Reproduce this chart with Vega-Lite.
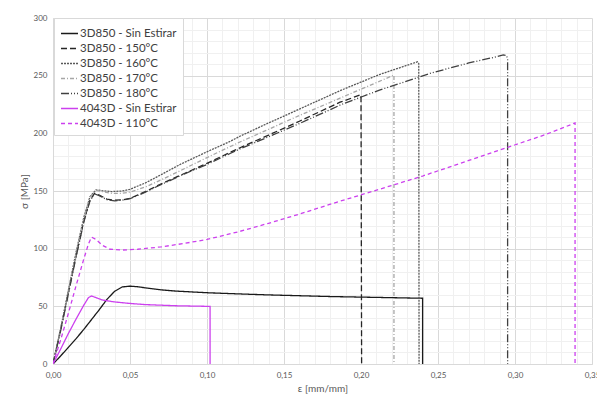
{
  "$schema": "https://vega.github.io/schema/vega-lite/v6.json",
  "width": 539,
  "height": 346,
  "autosize": {"type": "none"},
  "padding": {"left": 53, "top": 18, "right": 5, "bottom": 32},
  "background": "white",
  "config": {"view": {"stroke": null}, "font": "Lato"},
  "datasets": {
    "curves": [
      {"s": "3D850 - Sin Estirar", "i": 1, "e": 0, "v": 0},
      {"s": "3D850 - Sin Estirar", "i": 2, "e": 0.005, "v": 7},
      {"s": "3D850 - Sin Estirar", "i": 3, "e": 0.01, "v": 14.5},
      {"s": "3D850 - Sin Estirar", "i": 4, "e": 0.015, "v": 22},
      {"s": "3D850 - Sin Estirar", "i": 5, "e": 0.02, "v": 30},
      {"s": "3D850 - Sin Estirar", "i": 6, "e": 0.025, "v": 38.5},
      {"s": "3D850 - Sin Estirar", "i": 7, "e": 0.03, "v": 47},
      {"s": "3D850 - Sin Estirar", "i": 8, "e": 0.035, "v": 56},
      {"s": "3D850 - Sin Estirar", "i": 9, "e": 0.04, "v": 63},
      {"s": "3D850 - Sin Estirar", "i": 10, "e": 0.045, "v": 66.8},
      {"s": "3D850 - Sin Estirar", "i": 11, "e": 0.05, "v": 67.5},
      {"s": "3D850 - Sin Estirar", "i": 12, "e": 0.055, "v": 67},
      {"s": "3D850 - Sin Estirar", "i": 13, "e": 0.06, "v": 66},
      {"s": "3D850 - Sin Estirar", "i": 14, "e": 0.07, "v": 64.3},
      {"s": "3D850 - Sin Estirar", "i": 15, "e": 0.08, "v": 63.2},
      {"s": "3D850 - Sin Estirar", "i": 16, "e": 0.1, "v": 61.8},
      {"s": "3D850 - Sin Estirar", "i": 17, "e": 0.12, "v": 60.8},
      {"s": "3D850 - Sin Estirar", "i": 18, "e": 0.14, "v": 59.9},
      {"s": "3D850 - Sin Estirar", "i": 19, "e": 0.16, "v": 59.2},
      {"s": "3D850 - Sin Estirar", "i": 20, "e": 0.18, "v": 58.5},
      {"s": "3D850 - Sin Estirar", "i": 21, "e": 0.2, "v": 58},
      {"s": "3D850 - Sin Estirar", "i": 22, "e": 0.22, "v": 57.5},
      {"s": "3D850 - Sin Estirar", "i": 23, "e": 0.24, "v": 57},
      {"s": "3D850 - Sin Estirar", "i": 24, "e": 0.24, "v": 0},

      {"s": "3D850 - 150°C", "i": 1, "e": 0, "v": 0},
      {"s": "3D850 - 150°C", "i": 2, "e": 0.005, "v": 30},
      {"s": "3D850 - 150°C", "i": 3, "e": 0.01, "v": 62},
      {"s": "3D850 - 150°C", "i": 4, "e": 0.015, "v": 94},
      {"s": "3D850 - 150°C", "i": 5, "e": 0.02, "v": 124},
      {"s": "3D850 - 150°C", "i": 6, "e": 0.024, "v": 142},
      {"s": "3D850 - 150°C", "i": 7, "e": 0.027, "v": 148},
      {"s": "3D850 - 150°C", "i": 8, "e": 0.03, "v": 146.5},
      {"s": "3D850 - 150°C", "i": 9, "e": 0.035, "v": 143},
      {"s": "3D850 - 150°C", "i": 10, "e": 0.04, "v": 142},
      {"s": "3D850 - 150°C", "i": 11, "e": 0.045, "v": 142.3},
      {"s": "3D850 - 150°C", "i": 12, "e": 0.05, "v": 143.6},
      {"s": "3D850 - 150°C", "i": 13, "e": 0.06, "v": 149.5},
      {"s": "3D850 - 150°C", "i": 14, "e": 0.07, "v": 156},
      {"s": "3D850 - 150°C", "i": 15, "e": 0.08, "v": 162},
      {"s": "3D850 - 150°C", "i": 16, "e": 0.09, "v": 168},
      {"s": "3D850 - 150°C", "i": 17, "e": 0.1, "v": 174},
      {"s": "3D850 - 150°C", "i": 18, "e": 0.115, "v": 183.5},
      {"s": "3D850 - 150°C", "i": 19, "e": 0.1214, "v": 187.5},
      {"s": "3D850 - 150°C", "i": 20, "e": 0.14, "v": 198.5},
      {"s": "3D850 - 150°C", "i": 21, "e": 0.16, "v": 210.5},
      {"s": "3D850 - 150°C", "i": 22, "e": 0.18, "v": 223},
      {"s": "3D850 - 150°C", "i": 23, "e": 0.1864, "v": 227},
      {"s": "3D850 - 150°C", "i": 24, "e": 0.2, "v": 233.5},
      {"s": "3D850 - 150°C", "i": 25, "e": 0.2004, "v": 0},

      {"s": "3D850 - 160°C", "i": 1, "e": 0, "v": 0},
      {"s": "3D850 - 160°C", "i": 2, "e": 0.005, "v": 31},
      {"s": "3D850 - 160°C", "i": 3, "e": 0.01, "v": 64},
      {"s": "3D850 - 160°C", "i": 4, "e": 0.015, "v": 97},
      {"s": "3D850 - 160°C", "i": 5, "e": 0.02, "v": 127},
      {"s": "3D850 - 160°C", "i": 6, "e": 0.024, "v": 145},
      {"s": "3D850 - 160°C", "i": 7, "e": 0.028, "v": 151},
      {"s": "3D850 - 160°C", "i": 8, "e": 0.032, "v": 150.3},
      {"s": "3D850 - 160°C", "i": 9, "e": 0.038, "v": 149.5},
      {"s": "3D850 - 160°C", "i": 10, "e": 0.045, "v": 150},
      {"s": "3D850 - 160°C", "i": 11, "e": 0.05, "v": 151.5},
      {"s": "3D850 - 160°C", "i": 12, "e": 0.06, "v": 157},
      {"s": "3D850 - 160°C", "i": 13, "e": 0.07, "v": 164},
      {"s": "3D850 - 160°C", "i": 14, "e": 0.0825, "v": 173},
      {"s": "3D850 - 160°C", "i": 15, "e": 0.1, "v": 184},
      {"s": "3D850 - 160°C", "i": 16, "e": 0.115, "v": 193},
      {"s": "3D850 - 160°C", "i": 17, "e": 0.1214, "v": 197.5},
      {"s": "3D850 - 160°C", "i": 18, "e": 0.14, "v": 209},
      {"s": "3D850 - 160°C", "i": 19, "e": 0.16, "v": 221},
      {"s": "3D850 - 160°C", "i": 20, "e": 0.1864, "v": 237},
      {"s": "3D850 - 160°C", "i": 21, "e": 0.212, "v": 251},
      {"s": "3D850 - 160°C", "i": 22, "e": 0.2366, "v": 262},
      {"s": "3D850 - 160°C", "i": 23, "e": 0.2375, "v": 260.5},
      {"s": "3D850 - 160°C", "i": 24, "e": 0.2377, "v": 0},

      {"s": "3D850 - 170°C", "i": 1, "e": 0, "v": 0},
      {"s": "3D850 - 170°C", "i": 2, "e": 0.005, "v": 30.5},
      {"s": "3D850 - 170°C", "i": 3, "e": 0.01, "v": 63},
      {"s": "3D850 - 170°C", "i": 4, "e": 0.015, "v": 96},
      {"s": "3D850 - 170°C", "i": 5, "e": 0.02, "v": 126},
      {"s": "3D850 - 170°C", "i": 6, "e": 0.024, "v": 144.5},
      {"s": "3D850 - 170°C", "i": 7, "e": 0.028, "v": 150.5},
      {"s": "3D850 - 170°C", "i": 8, "e": 0.032, "v": 149.5},
      {"s": "3D850 - 170°C", "i": 9, "e": 0.038, "v": 148},
      {"s": "3D850 - 170°C", "i": 10, "e": 0.045, "v": 148},
      {"s": "3D850 - 170°C", "i": 11, "e": 0.05, "v": 149},
      {"s": "3D850 - 170°C", "i": 12, "e": 0.06, "v": 153.5},
      {"s": "3D850 - 170°C", "i": 13, "e": 0.07, "v": 159.5},
      {"s": "3D850 - 170°C", "i": 14, "e": 0.0825, "v": 167.5},
      {"s": "3D850 - 170°C", "i": 15, "e": 0.1, "v": 179},
      {"s": "3D850 - 170°C", "i": 16, "e": 0.1214, "v": 192.5},
      {"s": "3D850 - 170°C", "i": 17, "e": 0.14, "v": 203.5},
      {"s": "3D850 - 170°C", "i": 18, "e": 0.16, "v": 215.5},
      {"s": "3D850 - 170°C", "i": 19, "e": 0.1864, "v": 230.5},
      {"s": "3D850 - 170°C", "i": 20, "e": 0.2214, "v": 250.5},
      {"s": "3D850 - 170°C", "i": 21, "e": 0.2214, "v": 0},

      {"s": "3D850 - 180°C", "i": 1, "e": 0, "v": 0},
      {"s": "3D850 - 180°C", "i": 2, "e": 0.005, "v": 29},
      {"s": "3D850 - 180°C", "i": 3, "e": 0.01, "v": 61},
      {"s": "3D850 - 180°C", "i": 4, "e": 0.015, "v": 93},
      {"s": "3D850 - 180°C", "i": 5, "e": 0.02, "v": 123},
      {"s": "3D850 - 180°C", "i": 6, "e": 0.024, "v": 141.5},
      {"s": "3D850 - 180°C", "i": 7, "e": 0.027, "v": 147.5},
      {"s": "3D850 - 180°C", "i": 8, "e": 0.03, "v": 146},
      {"s": "3D850 - 180°C", "i": 9, "e": 0.035, "v": 142.5},
      {"s": "3D850 - 180°C", "i": 10, "e": 0.04, "v": 141.5},
      {"s": "3D850 - 180°C", "i": 11, "e": 0.045, "v": 142},
      {"s": "3D850 - 180°C", "i": 12, "e": 0.05, "v": 143.3},
      {"s": "3D850 - 180°C", "i": 13, "e": 0.06, "v": 149},
      {"s": "3D850 - 180°C", "i": 14, "e": 0.07, "v": 155.5},
      {"s": "3D850 - 180°C", "i": 15, "e": 0.08, "v": 161.5},
      {"s": "3D850 - 180°C", "i": 16, "e": 0.09, "v": 167.5},
      {"s": "3D850 - 180°C", "i": 17, "e": 0.1, "v": 173},
      {"s": "3D850 - 180°C", "i": 18, "e": 0.115, "v": 182.5},
      {"s": "3D850 - 180°C", "i": 19, "e": 0.1214, "v": 186.5},
      {"s": "3D850 - 180°C", "i": 20, "e": 0.14, "v": 197},
      {"s": "3D850 - 180°C", "i": 21, "e": 0.16, "v": 208.5},
      {"s": "3D850 - 180°C", "i": 22, "e": 0.18, "v": 220.5},
      {"s": "3D850 - 180°C", "i": 23, "e": 0.1864, "v": 224.5},
      {"s": "3D850 - 180°C", "i": 24, "e": 0.212, "v": 237.5},
      {"s": "3D850 - 180°C", "i": 25, "e": 0.2372, "v": 248.5},
      {"s": "3D850 - 180°C", "i": 26, "e": 0.2448, "v": 252},
      {"s": "3D850 - 180°C", "i": 27, "e": 0.27, "v": 261},
      {"s": "3D850 - 180°C", "i": 28, "e": 0.285, "v": 265.5},
      {"s": "3D850 - 180°C", "i": 29, "e": 0.2924, "v": 268},
      {"s": "3D850 - 180°C", "i": 30, "e": 0.2945, "v": 267.5},
      {"s": "3D850 - 180°C", "i": 31, "e": 0.2952, "v": 264},
      {"s": "3D850 - 180°C", "i": 32, "e": 0.2952, "v": 0},

      {"s": "4043D - Sin Estirar", "i": 1, "e": 0, "v": 0},
      {"s": "4043D - Sin Estirar", "i": 2, "e": 0.005, "v": 13},
      {"s": "4043D - Sin Estirar", "i": 3, "e": 0.01, "v": 26.5},
      {"s": "4043D - Sin Estirar", "i": 4, "e": 0.015, "v": 39},
      {"s": "4043D - Sin Estirar", "i": 5, "e": 0.02, "v": 51},
      {"s": "4043D - Sin Estirar", "i": 6, "e": 0.023, "v": 57.5},
      {"s": "4043D - Sin Estirar", "i": 7, "e": 0.025, "v": 59},
      {"s": "4043D - Sin Estirar", "i": 8, "e": 0.028, "v": 57.5},
      {"s": "4043D - Sin Estirar", "i": 9, "e": 0.032, "v": 55.5},
      {"s": "4043D - Sin Estirar", "i": 10, "e": 0.04, "v": 53.8},
      {"s": "4043D - Sin Estirar", "i": 11, "e": 0.05, "v": 52.5},
      {"s": "4043D - Sin Estirar", "i": 12, "e": 0.06, "v": 51.5},
      {"s": "4043D - Sin Estirar", "i": 13, "e": 0.08, "v": 50.5},
      {"s": "4043D - Sin Estirar", "i": 14, "e": 0.1, "v": 50},
      {"s": "4043D - Sin Estirar", "i": 15, "e": 0.102, "v": 50},
      {"s": "4043D - Sin Estirar", "i": 16, "e": 0.102, "v": 0},

      {"s": "4043D - 110°C", "i": 1, "e": 0, "v": 0},
      {"s": "4043D - 110°C", "i": 2, "e": 0.005, "v": 21},
      {"s": "4043D - 110°C", "i": 3, "e": 0.01, "v": 44},
      {"s": "4043D - 110°C", "i": 4, "e": 0.015, "v": 68},
      {"s": "4043D - 110°C", "i": 5, "e": 0.02, "v": 91},
      {"s": "4043D - 110°C", "i": 6, "e": 0.023, "v": 104},
      {"s": "4043D - 110°C", "i": 7, "e": 0.025, "v": 110},
      {"s": "4043D - 110°C", "i": 8, "e": 0.028, "v": 108},
      {"s": "4043D - 110°C", "i": 9, "e": 0.032, "v": 103},
      {"s": "4043D - 110°C", "i": 10, "e": 0.037, "v": 99.5},
      {"s": "4043D - 110°C", "i": 11, "e": 0.045, "v": 98.8},
      {"s": "4043D - 110°C", "i": 12, "e": 0.055, "v": 99.5},
      {"s": "4043D - 110°C", "i": 13, "e": 0.07, "v": 101.5},
      {"s": "4043D - 110°C", "i": 14, "e": 0.085, "v": 104.5},
      {"s": "4043D - 110°C", "i": 15, "e": 0.1, "v": 108},
      {"s": "4043D - 110°C", "i": 16, "e": 0.12, "v": 114.5},
      {"s": "4043D - 110°C", "i": 17, "e": 0.14, "v": 122},
      {"s": "4043D - 110°C", "i": 18, "e": 0.16, "v": 130},
      {"s": "4043D - 110°C", "i": 19, "e": 0.186, "v": 141},
      {"s": "4043D - 110°C", "i": 20, "e": 0.212, "v": 151.5},
      {"s": "4043D - 110°C", "i": 21, "e": 0.24, "v": 163},
      {"s": "4043D - 110°C", "i": 22, "e": 0.27, "v": 176.5},
      {"s": "4043D - 110°C", "i": 23, "e": 0.2957, "v": 188},
      {"s": "4043D - 110°C", "i": 24, "e": 0.32, "v": 199},
      {"s": "4043D - 110°C", "i": 25, "e": 0.339, "v": 209},
      {"s": "4043D - 110°C", "i": 26, "e": 0.339, "v": 0}
    ]
  },
  "data": {"name": "curves"},
  "mark": {"type": "line", "strokeWidth": 1.3, "clip": true},
  "encoding": {
    "x": {
      "field": "e",
      "type": "quantitative",
      "scale": {"domain": [0, 0.35], "nice": false, "zero": false},
      "axis": {
        "title": "ε [mm/mm]",
        "values": [0, 0.01, 0.02, 0.03, 0.04, 0.05, 0.06, 0.07, 0.08, 0.09, 0.1, 0.11, 0.12, 0.13, 0.14, 0.15, 0.16, 0.17, 0.18, 0.19, 0.2, 0.21, 0.22, 0.23, 0.24, 0.25, 0.26, 0.27, 0.28, 0.29, 0.3, 0.31, 0.32, 0.33, 0.34, 0.35],
        "labelExpr": "abs(datum.value * 20 - round(datum.value * 20)) < 0.001 ? replace(format(datum.value, '.2f'), '.', ',') : ''",
        "labelOverlap": false,
        "labelFlush": false,
        "labelBound": false,
        "ticks": false,
        "domainColor": "#d9d9d9",
        "gridColor": {"condition": {"test": "abs(datum.value * 20 - round(datum.value * 20)) < 0.001", "value": "#d9d9d9"}, "value": "#f0f0f0"},
        "labelFontSize": 8,
        "labelColor": "#595959",
        "labelPadding": 7,
        "titleFontSize": 10,
        "titleFontWeight": "normal",
        "titleColor": "#595959",
        "titlePadding": 4
      }
    },
    "y": {
      "field": "v",
      "type": "quantitative",
      "scale": {"domain": [0, 300], "nice": false},
      "axis": {
        "title": "σ [MPa]",
        "values": [0, 10, 20, 30, 40, 50, 60, 70, 80, 90, 100, 110, 120, 130, 140, 150, 160, 170, 180, 190, 200, 210, 220, 230, 240, 250, 260, 270, 280, 290, 300],
        "labelExpr": "datum.value % 50 === 0 ? datum.label : ''",
        "labelOverlap": false,
        "labelBound": false,
        "labelFlush": false,
        "ticks": false,
        "domainColor": "#d9d9d9",
        "gridColor": {"condition": {"test": "datum.value % 50 === 0", "value": "#d9d9d9"}, "value": "#f0f0f0"},
        "labelFontSize": 8,
        "labelColor": "#595959",
        "labelPadding": 6,
        "titleFontSize": 10,
        "titleFontWeight": "normal",
        "titleColor": "#595959",
        "titlePadding": 4
      }
    },
    "color": {
      "field": "s",
      "type": "nominal",
      "scale": {
        "domain": ["3D850 - Sin Estirar", "3D850 - 150°C", "3D850 - 160°C", "3D850 - 170°C", "3D850 - 180°C", "4043D - Sin Estirar", "4043D - 110°C"],
        "range": ["#1a1a1a", "#262626", "#595959", "#a6a6a6", "#404040", "#cc40ee", "#cc40ee"]
      },
      "legend": {
        "title": null,
        "orient": "none",
        "legendX": 1,
        "legendY": 0,
        "symbolType": "stroke",
        "symbolSize": 289,
        "symbolStrokeWidth": 1.5,
        "labelFontSize": 11.5,
        "labelColor": "#404040",
        "labelOffset": 1,
        "labelLimit": 250,
        "rowPadding": 0,
        "padding": 6,
        "strokeColor": "#d9d9d9",
        "fillColor": "white"
      }
    },
    "strokeDash": {
      "field": "s",
      "type": "nominal",
      "scale": {
        "domain": ["3D850 - Sin Estirar", "3D850 - 150°C", "3D850 - 160°C", "3D850 - 170°C", "3D850 - 180°C", "4043D - Sin Estirar", "4043D - 110°C"],
        "range": [[1, 0], [6, 3], [2, 1], [4, 2, 1, 2], [8, 2, 1, 2, 1, 2], [1, 0], [4, 3]]
      },
      "legend": {
        "title": null,
        "orient": "none",
        "legendX": 1,
        "legendY": 0,
        "symbolType": "stroke",
        "symbolSize": 289,
        "symbolStrokeWidth": 1.5,
        "labelFontSize": 11.5,
        "labelColor": "#404040",
        "labelOffset": 1,
        "labelLimit": 250,
        "rowPadding": 0,
        "padding": 6,
        "strokeColor": "#d9d9d9",
        "fillColor": "white"
      }
    },
    "order": {"field": "i", "type": "quantitative"}
  }
}
